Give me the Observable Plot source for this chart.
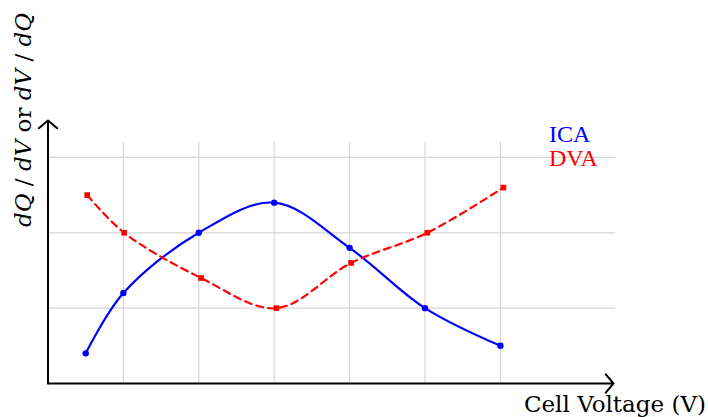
<!DOCTYPE html>
<html>
<head>
<meta charset="utf-8">
<script src="https://cdn.jsdelivr.net/npm/d3@7"></script>
<script src="https://cdn.jsdelivr.net/npm/@observablehq/plot@0.6"></script>
<style>
  html, body { margin: 0; padding: 0; background: #fff; }
  svg { display: block; }
</style>
</head>
<body>
<div id="chart"></div>
<script>
// Data
const icaX = [0.5, 1, 2, 3, 4, 5, 6];
const icaY = [0.4, 1.2, 2.0, 2.4, 1.8, 1.0, 0.5];
const dvaX = [0.52, 1.01, 2.03, 3.03, 4.02, 5.03, 6.04];
const dvaY = [2.5, 2.0, 1.4, 1.0, 1.6, 2.0, 2.6];
const gridX = [1, 2, 3, 4, 5, 6];
const gridY = [1, 2, 3];
const seriesNames = ["ICA", "DVA"];
const seriesColors = ["#0000ff", "#ff0000"];
const xLabel = "Cell Voltage (V)";

const ica = icaX.map((x, i) => ({x, y: icaY[i]}));
const dva = dvaX.map((x, i) => ({x, y: dvaY[i]}));

const chart = Plot.plot({
  width: 708,
  height: 417,
  marginLeft: 47.5,
  marginRight: 95,
  marginTop: 120,
  marginBottom: 34,
  x: {domain: [0, 7.5], axis: null},
  y: {domain: [0, 3.49], axis: null},
  marks: [
    Plot.ruleX(gridX, {y1: 0, y2: 3.2, stroke: "#d6d6d6", strokeWidth: 1.2}),
    Plot.ruleY(gridY, {x1: 0, x2: 7.53, stroke: "#d6d6d6", strokeWidth: 1.2}),
    Plot.line(ica, {x: "x", y: "y", curve: "catmull-rom", stroke: seriesColors[0], strokeWidth: 2.2}),
    Plot.dot(ica, {x: "x", y: "y", r: 3.2, fill: seriesColors[0], stroke: "none"}),
    Plot.line(dva, {x: "x", y: "y", curve: "catmull-rom", stroke: seriesColors[1], strokeWidth: 2.2, strokeDasharray: "7,5"}),
    Plot.dot(dva, {x: "x", y: "y", r: 3.2, symbol: "square", fill: seriesColors[1], stroke: "none"}),
    Plot.arrow([{x1: 0, y1: 0, x2: 7.5, y2: 0}], {x1: "x1", y1: "y1", x2: "x2", y2: "y2", stroke: "black", strokeWidth: 2, headLength: 9, headAngle: 100}),
    Plot.arrow([{x1: 0, y1: 0, x2: 0, y2: 3.49}], {x1: "x1", y1: "y1", x2: "x2", y2: "y2", stroke: "black", strokeWidth: 2, headLength: 9, headAngle: 100})
  ]
});

document.getElementById("chart").appendChild(chart);

const svg = d3.select(chart);
// legend
seriesNames.forEach((name, i) => {
  svg.append("text")
    .attr("x", 549).attr("y", 142 + i * 23.5)
    .attr("text-anchor", "start")
    .attr("fill", seriesColors[i])
    .style("font-family", "'Liberation Serif', serif")
    .style("font-size", "24px")
    .text(name);
});
// x label
svg.append("text")
  .attr("x", 706).attr("y", 412)
  .attr("text-anchor", "end")
  .attr("fill", "black")
  .style("font-family", "'DejaVu Serif', serif")
  .style("font-size", "23px")
  .text(xLabel);
// y label with italic math parts
const yl = svg.append("text")
  .attr("transform", "translate(31,120) rotate(-90)")
  .attr("text-anchor", "middle")
  .attr("fill", "black")
  .style("font-family", "'DejaVu Serif', serif")
  .style("font-size", "23px");
const parts = [["dQ", true], [" / ", false], ["dV", true], [" or ", false], ["dV", true], [" / ", false], ["dQ", true]];
parts.forEach(([t, it]) => {
  yl.append("tspan").style("font-style", it ? "italic" : "normal").text(t);
});
</script>
</body>
</html>
